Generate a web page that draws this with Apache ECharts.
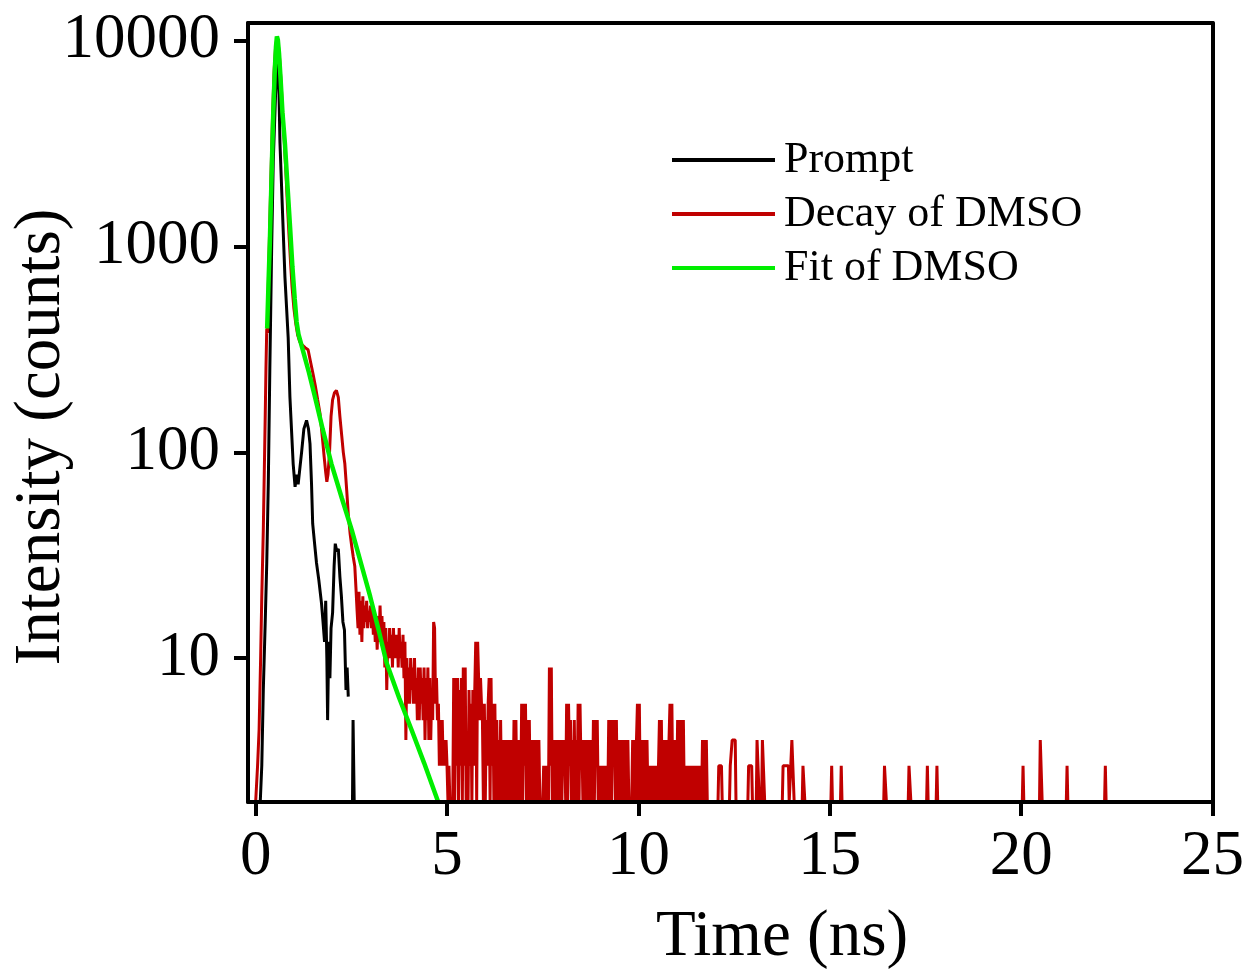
<!DOCTYPE html>
<html>
<head>
<meta charset="utf-8">
<script src="https://cdn.jsdelivr.net/npm/echarts@6/dist/echarts.min.js"></script>
<style>html,body{margin:0;padding:0;background:#fff}#c{width:1247px;height:974px}</style>
</head>
<body>
<div id="c"></div>
<script>
// ---- Data (time in ns, intensity in counts) ----
var xTickValues = [0, 5, 10, 15, 20, 25];
var yTickValues = [10, 100, 1000, 10000];

var promptData = [
  [0.12,2],[0.16,3],[0.20,7],[0.25,15],[0.29,29],[0.33,70],[0.37,250],[0.42,1035],[0.46,2600],
  [0.52,5500],[0.575,8000],[0.60,7000],[0.635,3200],[0.70,1500],[0.765,710],[0.85,360],[0.895,186],
  [0.98,88],[1.03,68],[1.07,78],[1.11,70],[1.15,82],[1.20,100],[1.26,130],[1.33,143],[1.38,130],
  [1.42,110],[1.46,70],[1.49,45],[1.54,36],[1.59,29],[1.65,24],[1.72,18.5],[1.76,15],[1.80,12],
  [1.83,19],[1.86,10],[1.88,5],[1.91,12],[1.94,8],[1.97,14],[2.01,16.6],[2.05,28],[2.08,36],
  [2.12,33],[2.16,34],[2.20,25],[2.24,20],[2.28,15],[2.32,13.7],[2.36,7],[2.39,9],[2.42,6.5],
  [2.43,null],[2.53,2],[2.545,5],[2.56,5],[2.575,2]
];

// Decay: rising edge, peak and early decay (time, counts)
var decayHead = [
  [0.00,2],[0.03,2],[0.05,3],[0.09,4.5],[0.13,10],[0.16,20],[0.20,42],[0.23,90],[0.25,150],[0.27,260],
  [0.29,400],[0.31,380],[0.33,650],[0.36,1100],[0.40,2200],[0.44,4200],[0.48,7000],[0.52,9300],
  [0.555,10300],[0.59,9700],[0.63,8000],[0.67,6000],[0.71,4300],[0.75,3200],[0.79,2300],[0.83,1600],
  [0.87,1150],[0.91,850],[0.95,640],[1.00,500],[1.05,420],[1.10,370],[1.15,345],[1.20,335],[1.25,342],
  [1.30,322],[1.37,315],[1.44,272],[1.50,240],[1.56,210],[1.62,180],[1.68,155],[1.74,120],[1.79,95],
  [1.83,80],[1.86,72],[1.89,78],[1.93,100],[1.97,150],[2.01,180],[2.06,195],[2.11,200],[2.16,185],
  [2.20,150],[2.25,120],[2.29,100],[2.33,88],[2.38,65],[2.42,50],[2.47,40],[2.51,35],[2.55,31],
  [2.59,28],[2.62,22],[2.65,17]
];

// Decay: noisy channels, 0.025 ns per channel starting at 2.675 ns
var decayChannelStart = 2.675;
var decayChannelWidth = 0.025;
var decayChannelCounts = [
  14,21,13,19,12,20,14,18,  15,19,14,17,15,18,14,17,  13,16,12,15,11,16,12,18,
  13,16,11,15,9,14,7,12,    10,14,10,13,9,14,10,13,   10,13,9,14,10,12,9,13,
  8,12,4,10,6,9,6,10,       7,9,6,10,6,8,5,9,         5,9,6,8,5,9,4,8,
  5,9,4,8,4,7,5,15,         14,6,8,5,6,3,5,3,         5,3,4,3,4,3,2,3,
  2,
  2,2,2,8,2,8,3,8,          2,7,3,8,2,9,3,9,          2,4,2,7,3,6,2,7,
  3,7,12,2,12,8,5,8,        6,5,2,6,2,5,3,6,          8,2,8,3,6,2,6,2,
  5,2,4,2,5,2,4,2,          4,2,4,2,4,2,4,2,          4,2,5,2,5,2,4,2,
  4,2,6,2,6,3,6,2,          5,2,5,2,4,2,4,2,          4,2,4,2,4,2,2,2,
  2,3,2,3,2,3,2,9,          3,9,2,4,2,4,2,4,          2,4,2,4,2,4,3,4,
  2,6,2,6,3,5,2,4,          2,5,2,4,2,6,2,6,          3,4,2,4,2,4,2,4,
  2,4,2,4,2,5,2,5,          3,5,2,3,2,3,2,3,          2,3,2,3,2,5,2,5,
  2,5,3,5,2,5,2,4,          2,4,2,4,2,4,2,4,          2,4,2,2,2,2,4,2,
  4,2,4,6,2,6,2,4,          2,4,2,4,2,4,2,3,          2,3,2,3,2,3,2,3,
  2,3,5,2,5,2,4,2,          4,2,4,2,4,6,2,6,          2,4,2,4,2,5,2,5,
  2,5,2,5,2,3,2,3,          2,3,2,3,2,3,2,3,          2,3,2,3,2,3,2,4,
  2,4,2,4,2,2,2,2
];

// Decay: sparse late counts (time, counts)
var decayTail = [
  [12.08,2],[12.10,3],[12.17,3],[12.19,2],[12.38,2],[12.40,3],[12.45,4],[12.53,4],[12.55,2],
  [12.86,2],[12.88,3],[12.96,3],[12.98,2],[13.08,2],[13.10,4],[13.14,4],[13.16,2],[13.22,2],
  [13.24,4],[13.28,4],[13.30,2],[13.76,2],[13.78,3],[13.92,3],[13.94,2],[13.99,2],[14.01,4],
  [14.05,4],[14.07,2],[14.28,2],[14.30,3],[14.33,3],[14.35,2],[15.03,2],[15.05,3],[15.07,2],
  [15.28,2],[15.30,3],[15.32,2],[16.41,2],[16.43,3],[16.46,3],[16.48,2],[17.05,2],[17.07,3],
  [17.10,3],[17.12,2],[17.53,2],[17.55,3],[17.57,2],[17.78,2],[17.80,3],[17.82,2],[20.03,2],
  [20.05,3],[20.07,2],[20.48,2],[20.50,4],[20.53,4],[20.55,2],[21.18,2],[21.20,3],[21.22,2],
  [22.18,2],[22.20,3],[22.22,2],[25.00,2]
];

var fitData = [
  [0.30,400],[0.34,700],[0.37,1040],[0.41,2000],[0.46,4500],[0.50,7200],[0.53,9300],[0.555,10500],
  [0.58,10100],[0.61,8700],[0.65,6600],[0.70,4500],[0.765,3165],[0.83,2000],[0.90,1235],[0.96,800],
  [1.02,560],[1.07,430],[1.12,375],[1.20,330],[1.39,245],[1.55,186],[1.75,130],[1.98,88],[2.25,60],
  [2.51,42],[2.75,29],[2.99,20],[3.20,14],[3.42,9.5],[3.75,6.4],[4.07,4.5],[4.40,3.1],[4.77,2.0]
];

var seriesNames = ['Prompt', 'Decay of DMSO', 'Fit of DMSO'];

// assemble decay series from its parts
var decayData = decayHead.slice();
decayChannelCounts.forEach(function (c, i) {
  decayData.push([Math.round((decayChannelStart + i * decayChannelWidth) * 1000) / 1000, c]);
});
decayData = decayData.concat(decayTail);

var FONT = '"Liberation Serif", "Times New Roman", serif';
var AXIS_LINE = {show: true, onZero: false, lineStyle: {color: '#000', width: 4}};
var chart = echarts.init(document.getElementById('c'), null, {renderer: 'canvas'});
chart.setOption({
  animation: false,
  backgroundColor: '#fff',
  grid: {left: 248, right: 34, top: 23, bottom: 172, show: false},
  legend: {
    data: seriesNames.map(function (n) { return {name: n, icon: 'rect'}; }),
    orient: 'vertical', left: 672, top: 133, padding: 0, itemGap: 0,
    itemWidth: 103, itemHeight: 4,
    textStyle: {fontFamily: FONT, fontSize: 44, color: '#000', lineHeight: 54, padding: [0, 0, 0, 4]}
  },
  xAxis: [{
    type: 'value', min: -0.2, max: 25, z: 10, position: 'bottom',
    axisLine: AXIS_LINE,
    axisTick: {show: true, length: 14, lineStyle: {color: '#000', width: 4}, customValues: xTickValues},
    axisLabel: {customValues: xTickValues, fontFamily: FONT, fontSize: 63, color: '#000', margin: 24,
      formatter: function (v) { return String(Math.round(v)); }},
    splitLine: {show: false}
  }, {
    type: 'value', min: -0.2, max: 25, z: 10, position: 'top',
    axisLine: AXIS_LINE, axisTick: {show: false}, axisLabel: {show: false}, splitLine: {show: false}
  }],
  yAxis: [{
    type: 'log', logBase: 10, min: 2, max: 12200, z: 10, position: 'left',
    axisLine: AXIS_LINE,
    axisTick: {show: true, length: 14, lineStyle: {color: '#000', width: 4}, customValues: yTickValues},
    axisLabel: {customValues: yTickValues, fontFamily: FONT, fontSize: 63, color: '#000', margin: 28,
      formatter: function (v) { return String(Math.round(v)); }},
    splitLine: {show: false},
    minorTick: {show: false}
  }, {
    type: 'log', logBase: 10, min: 2, max: 12200, z: 10, position: 'right',
    axisLine: AXIS_LINE, axisTick: {show: false}, axisLabel: {show: false}, splitLine: {show: false}
  }],
  graphic: [
    {type: 'text', x: 782, y: 938, style: {text: 'Time (ns)', font: '65px ' + FONT, fill: '#000', align: 'center', verticalAlign: 'middle'}},
    {type: 'text', x: 42, y: 437, rotation: Math.PI / 2, style: {text: 'Intensity (counts)', font: '65px ' + FONT, fill: '#000', align: 'center', verticalAlign: 'middle'}}
  ],
  series: [
    {name: 'Decay of DMSO', type: 'line', data: decayData, showSymbol: false, symbol: 'none', color: '#c00000',
      lineStyle: {color: '#c00000', width: 3}, connectNulls: false, z: 2},
    {name: 'Prompt', type: 'line', data: promptData, showSymbol: false, symbol: 'none', color: '#000',
      lineStyle: {color: '#000', width: 3}, connectNulls: false, z: 3},
    {name: 'Fit of DMSO', type: 'line', data: fitData, showSymbol: false, symbol: 'none', color: '#00ee00',
      lineStyle: {color: '#00ee00', width: 4.5}, z: 4}
  ]
});
</script>
</body>
</html>
